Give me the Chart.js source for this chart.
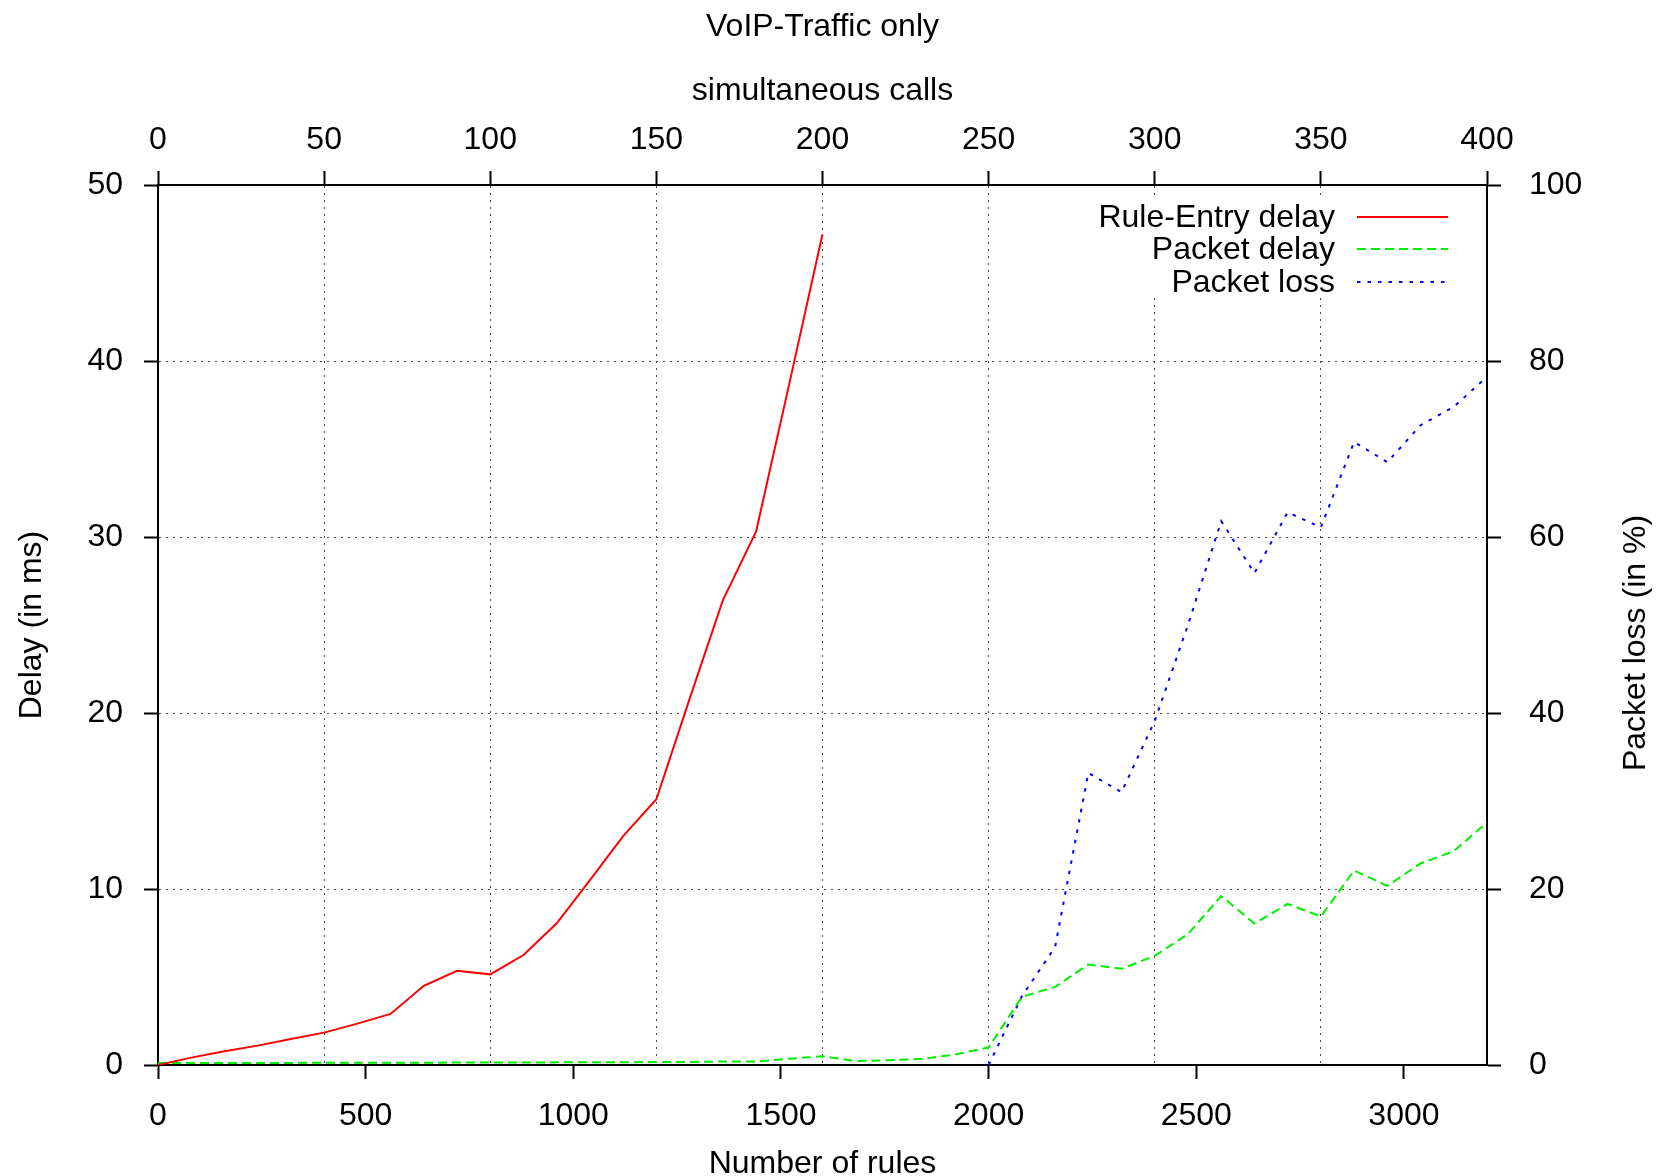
<!DOCTYPE html>
<html>
<head>
<meta charset="utf-8">
<title>VoIP-Traffic only</title>
<script src="https://cdn.jsdelivr.net/npm/chart.js@4/dist/chart.umd.min.js"></script>
<style>
  html, body { margin: 0; padding: 0; background: #fff; }
  #wrap { width: 1669px; height: 1176px; }
</style>
</head>
<body>
<div id="wrap"><canvas id="myChart" width="1669" height="1176"></canvas></div>
<script>
// number of rules (x), one point every 10 simultaneous calls
const rules = [0, 80, 160, 240, 320, 400, 480, 560, 640, 720, 800, 880, 960, 1040, 1120, 1200,
  1280, 1360, 1440, 1520, 1600, 1680, 1760, 1840, 1920, 2000, 2080, 2160, 2240, 2320, 2400,
  2480, 2560, 2640, 2720, 2800, 2880, 2960, 3040, 3120, 3200];

// Rule-Entry delay (ms), measured 0..1600 rules
const ruleEntryDelay = [0, 0.42, 0.78, 1.1, 1.48, 1.84, 2.35, 2.9, 4.5, 5.35, 5.15, 6.25, 8.05,
  10.5, 13.0, 15.1, 20.8, 26.4, 30.3, 38.7, 47.2];

// Packet delay (ms)
const packetDelay = [0.12, 0.12, 0.12, 0.12, 0.12, 0.13, 0.13, 0.13, 0.13, 0.14, 0.14, 0.14, 0.15,
  0.16, 0.16, 0.17, 0.17, 0.2, 0.2, 0.35, 0.5, 0.22, 0.27, 0.35, 0.6, 1.0, 3.87, 4.44, 5.71, 5.47,
  6.2, 7.44, 9.6, 8.04, 9.15, 8.44, 11.05, 10.18, 11.45, 12.15, 13.78];

// Packet loss (%), from 2000 rules on
const lossRules = [2000, 2080, 2160, 2240, 2320, 2400, 2480, 2560, 2640, 2720, 2800, 2880, 2960, 3040, 3120, 3200];
const packetLoss = [0, 7.8, 13.4, 33.2, 31.0, 39.1, 50.0, 61.8, 55.9, 62.8, 61.1, 70.8, 68.5, 72.7, 74.8, 78.2];

// tick labels
const rulesTicks = [0, 500, 1000, 1500, 2000, 2500, 3000];
const callsTicks = [0, 50, 100, 150, 200, 250, 300, 350, 400];
const delayTicks = [0, 10, 20, 30, 40, 50];
const lossTicks = [0, 20, 40, 60, 80, 100];

const toPoints = (xs, ys) => ys.map((v, i) => ({x: xs[i], y: v}));
const fixedTicks = (values) => (scale) => { scale.ticks = values.map(v => ({value: v})); };

Chart.defaults.font.family = "'Liberation Sans', Arial, Helvetica, sans-serif";
Chart.defaults.font.size = 32;
Chart.defaults.color = '#000';

const gridDots = '#444';

// gnuplot-style key: text right aligned, line sample to the right, white box behind
const keyPlugin = {
  id: 'gnuKey',
  beforeDatasetsDraw(chart) {
    const ctx = chart.ctx;
    ctx.save();
    ctx.fillStyle = '#fff';
    ctx.fillRect(1090, 197, 372, 100);
    ctx.restore();
  },
  afterDatasetsDraw(chart) {
    const ctx = chart.ctx;
    const rows = [217, 249, 282];
    ctx.save();
    ctx.font = "32px 'Liberation Sans', Arial, sans-serif";
    ctx.textAlign = 'right';
    ctx.textBaseline = 'middle';
    chart.data.datasets.forEach((ds, i) => {
      const y = rows[i];
      ctx.fillStyle = '#000';
      ctx.fillText(ds.label, 1335, y + 1);
      ctx.strokeStyle = ds.borderColor;
      ctx.lineWidth = ds.borderWidth;
      ctx.setLineDash(ds.borderDash || []);
      ctx.beginPath();
      ctx.moveTo(1357, y);
      ctx.lineTo(1448, y);
      ctx.stroke();
    });
    ctx.restore();
  },
  afterDraw(chart) {
    // right axis title reads bottom-to-top like the left one
    const ctx = chart.ctx;
    ctx.save();
    ctx.translate(1636, 643);
    ctx.rotate(-Math.PI / 2);
    ctx.font = "32px 'Liberation Sans', Arial, sans-serif";
    ctx.fillStyle = '#000';
    ctx.textAlign = 'center';
    ctx.textBaseline = 'middle';
    ctx.fillText('Packet loss (in %)', 0, 0);
    ctx.restore();
  }
};

const axisBorder = {color: '#000', width: 2};

const config = {
  type: 'line',
  data: {
    datasets: [
      {
        label: 'Rule-Entry delay',
        data: toPoints(rules, ruleEntryDelay),
        borderColor: '#ff0000',
        borderWidth: 2,
        yAxisID: 'y',
        xAxisID: 'x'
      },
      {
        label: 'Packet delay',
        data: toPoints(rules, packetDelay),
        borderColor: '#00ee00',
        borderWidth: 2,
        borderDash: [9, 5],
        yAxisID: 'y',
        xAxisID: 'x'
      },
      {
        label: 'Packet loss',
        data: toPoints(lossRules, packetLoss),
        borderColor: '#0000ff',
        borderWidth: 2,
        borderDash: [3.5, 7],
        yAxisID: 'y2',
        xAxisID: 'x'
      }
    ]
  },
  options: {
    responsive: false,
    animation: false,
    devicePixelRatio: 1,
    layout: {padding: 0},
    elements: {
      point: {radius: 0, hoverRadius: 0},
      line: {tension: 0}
    },
    plugins: {
      legend: {display: false},
      tooltip: {enabled: false},
      title: {
        display: true,
        text: 'VoIP-Traffic only',
        fullSize: false,
        font: {size: 32, weight: 'normal'},
        padding: {top: 8, bottom: 0}
      }
    },
    scales: {
      x: {
        type: 'linear',
        position: 'bottom',
        min: 0,
        max: 3200,
        afterBuildTicks: fixedTicks(rulesTicks),
        ticks: {padding: 18, maxRotation: 0, autoSkip: false, callback: v => String(v)},
        grid: {drawOnChartArea: false, tickLength: 14, tickWidth: 2, tickColor: '#000'},
        border: axisBorder,
        title: {display: true, text: 'Number of rules', font: {size: 32, lineHeight: 0.75}, padding: {top: 0, bottom: 0}},
        afterFit(scale) { scale.height = 111; }
      },
      x2: {
        type: 'linear',
        axis: 'x',
        position: 'top',
        min: 0,
        max: 400,
        afterBuildTicks: fixedTicks(callsTicks),
        ticks: {padding: 12, maxRotation: 0, autoSkip: false, callback: v => String(v)},
        grid: {drawOnChartArea: true, color: gridDots, lineWidth: 1, tickLength: 14, tickWidth: 2, tickColor: '#000'},
        border: {color: '#000', width: 2, dash: [2, 5]},
        title: {display: true, text: 'simultaneous calls', padding: {top: 26, bottom: 0}},
        afterFit(scale) { scale.height = 138.6; }
      },
      y: {
        type: 'linear',
        position: 'left',
        min: 0,
        max: 50,
        afterBuildTicks: fixedTicks(delayTicks),
        ticks: {padding: 21, autoSkip: false},
        grid: {drawOnChartArea: true, color: gridDots, lineWidth: 1, tickLength: 14, tickWidth: 2, tickColor: '#000'},
        border: {color: '#000', width: 2, dash: [2, 5]},
        title: {display: true, text: 'Delay (in ms)', padding: {top: 13, bottom: 0}},
        afterFit(scale) { scale.width = 158; }
      },
      y2: {
        type: 'linear',
        position: 'right',
        min: 0,
        max: 100,
        afterBuildTicks: fixedTicks(lossTicks),
        ticks: {padding: 28, autoSkip: false},
        grid: {drawOnChartArea: false, tickLength: 14, tickWidth: 2, tickColor: '#000'},
        border: axisBorder,
        afterFit(scale) { scale.width = 182; }
      }
    }
  },
  plugins: [keyPlugin]
};

const myChart = new Chart(document.getElementById('myChart'), config);
</script>
</body>
</html>
